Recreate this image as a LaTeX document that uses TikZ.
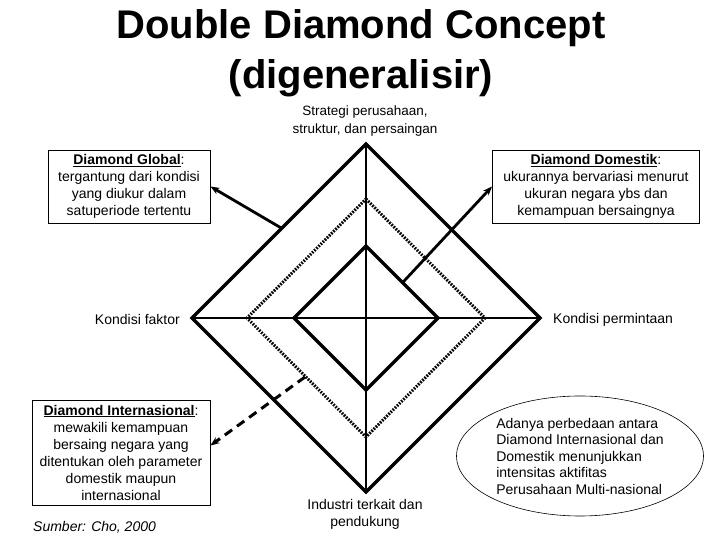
\documentclass[tikz,border=0pt]{standalone}
\usepackage{fontspec}
\setmainfont{Liberation Sans}
\usetikzlibrary{shapes.geometric,arrows.meta}
\begin{document}
\begin{tikzpicture}[x=1pt,y=1pt,
  txt/.style={font=\fontsize{14}{17}\selectfont, inner sep=0pt},
  infobox/.style={draw, line width=0.9pt, align=center, inner sep=0pt,
    font=\fontsize{14}{17}\selectfont, minimum height=73pt},
  thick3/.style={line width=3.2pt, line join=miter},
  cross/.style={line width=2pt},
  dotline/.style={line width=3pt, dash pattern=on 1.7pt off 1.3pt},
  arr/.style={line width=2.8pt, -{Stealth[length=9pt,width=7pt]}},
  darr/.style={line width=3pt, dash pattern=on 9pt off 6pt, -{Stealth[length=9pt,width=7pt]}}
]
\useasboundingbox (0,0) rectangle (720,540);
% diamond geometry
\coordinate (c) at (366,222);
\coordinate (oT) at (366,396);
\coordinate (oB) at (366,48);
\coordinate (oL) at (192,222);
\coordinate (oR) at (540,222);
\coordinate (dT) at (366,341);
\coordinate (dB) at (366,103);
\coordinate (dL) at (247,222);
\coordinate (dR) at (485,222);
\coordinate (iT) at (366,294);
\coordinate (iB) at (366,150);
\coordinate (iL) at (294,222);
\coordinate (iR) at (438,222);
% cross lines
\draw[cross] (oT) -- (oB);
\draw[cross] (oL) -- (oR);
% diamonds
\draw[thick3] (oT) -- (oR) -- (oB) -- (oL) -- cycle;
\draw[dotline] (dT) -- (dR) -- (dB) -- (dL) -- cycle;
\draw[thick3] (iT) -- (iR) -- (iB) -- (iL) -- cycle;
% title
\node[font=\fontsize{40}{50}\bfseries, inner sep=0pt, anchor=base] (title1) at (361,501) {Double Diamond Concept};
\node[font=\fontsize{40}{50}\bfseries, inner sep=0pt, anchor=base] (title2) at (361,451) {(digeneralisir)};
% labels
\node[txt, align=center, font=\fontsize{13.5}{18}\selectfont] (strat) at (365,419) {Strategi perusahaan,\\struktur, dan persaingan};
\node[txt, anchor=east] (kf) at (180,220) {Kondisi faktor};
\node[txt, anchor=west] (kp) at (553,220) {Kondisi permintaan};
\node[txt, align=center] (ind) at (365,26) {Industri terkait dan\\pendukung};
\node[txt, anchor=base west, font=\fontsize{14}{17}\itshape] (src) at (33,8) {Sumber: Cho, 2000};
% boxes
\node[infobox, minimum width=162pt] (boxG) at (129,353.5)
  {\underline{\textbf{Diamond Global}}:\\tergantung dari kondisi\\yang diukur dalam\\satuperiode tertentu};
\node[infobox, minimum width=207pt] (boxD) at (596,353.5)
  {\underline{\textbf{Diamond Domestik}}:\\ukurannya bervariasi menurut\\ukuran negara ybs dan\\kemampuan bersaingnya};
\node[infobox, minimum width=178pt, minimum height=105pt] (boxI) at (121,87.5)
  {\underline{\textbf{Diamond Internasional}}:\\mewakili kemampuan\\bersaing negara yang\\ditentukan oleh parameter\\domestik maupun\\internasional};
% ellipse
\node[ellipse, draw, line width=0.6pt, minimum width=247pt, minimum height=120pt,
  align=left, inner sep=0pt, font=\fontsize{14}{16.5}\selectfont] (ell) at (580,84)
  {Adanya perbedaan antara\\Diamond Internasional dan\\Domestik menunjukkan\\intensitas aktifitas\\Perusahaan Multi-nasional};
% arrow start points
\coordinate (gs) at (281.7,311.7);
\coordinate (ds) at (402.7,257.5);
\coordinate (is) at (305,163);
\draw[arr] (gs) -- (boxG.east);
\draw[arr] (ds) -- (boxD.west);
\draw[darr] (is) -- ([yshift=7pt]boxI.east);
\end{tikzpicture}
\end{document}
